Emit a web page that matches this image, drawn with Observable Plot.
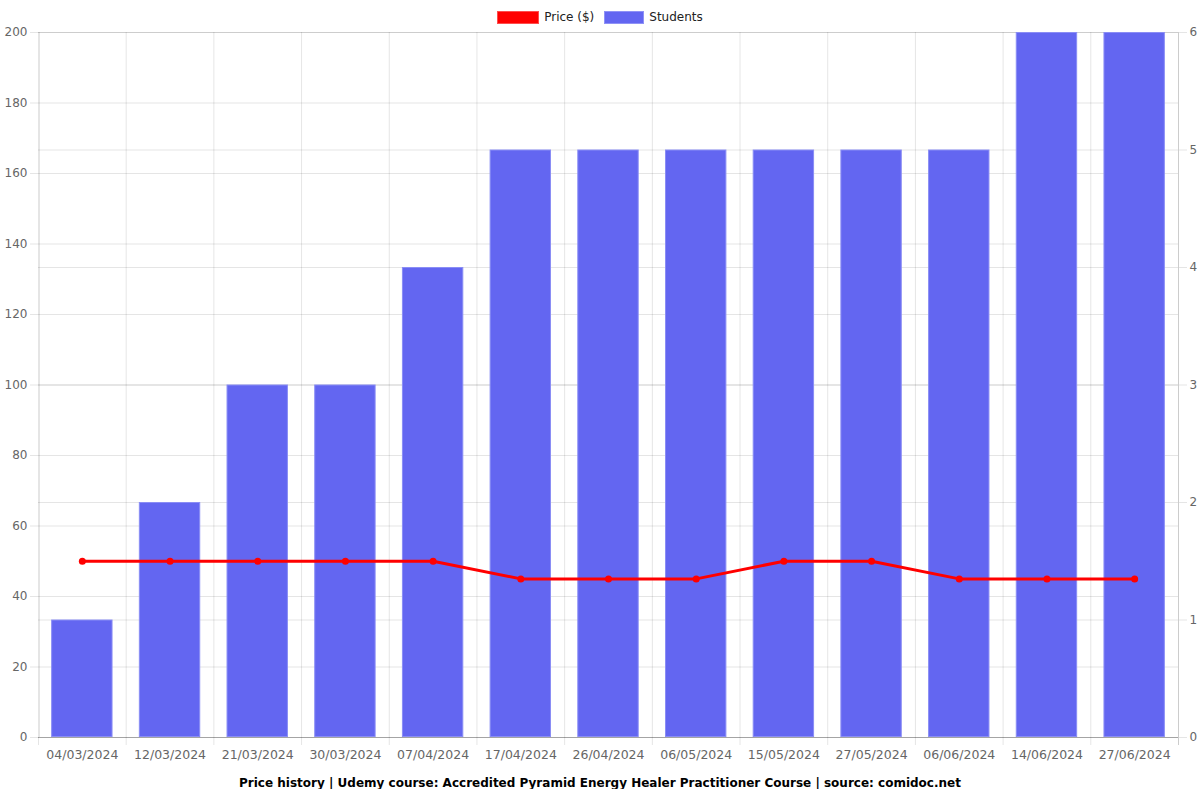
<!DOCTYPE html>
<html><head><meta charset="utf-8">
<script src="https://cdn.jsdelivr.net/npm/d3@7"></script>
<script src="https://cdn.jsdelivr.net/npm/@observablehq/plot@0.6"></script>
<style>
body{margin:0;background:#fff;font-family:"DejaVu Sans",sans-serif;width:1200px;}
#legend{height:24px;display:flex;justify-content:center;align-items:flex-end;font-size:12px;color:#222;}
#legend .item{display:flex;align-items:center;margin:0 5px;}
#legend .sw{display:inline-block;height:13px;margin-right:5px;box-sizing:border-box;}
#caption{height:12px;line-height:12px;text-align:center;font-weight:bold;font-size:12px;color:#000;}
</style></head><body>
<div id="legend"></div>
<div id="chart"></div>
<div id="caption"></div>
<script>
const dates = ["04/03/2024","12/03/2024","21/03/2024","30/03/2024","07/04/2024","17/04/2024","26/04/2024","06/05/2024","15/05/2024","27/05/2024","06/06/2024","14/06/2024","27/06/2024"];
const students = [1,2,3,3,4,5,5,5,5,5,5,6,6];
const prices = [50,50,50,50,50,45,45,45,50,50,45,45,45];
const leftTicks = [0,20,40,60,80,100,120,140,160,180,200];
const rightTicks = [0,1,2,3,4,5,6];
const priceMax = 200, studentsMax = 6;
const seriesNames = ["Price ($)","Students"];
const seriesColors = ["#ff0000","#6366f1"];
const titleText = "Price history | Udemy course: Accredited Pyramid Energy Healer Practitioner Course | source: comidoc.net";

const k = priceMax / studentsMax;
const data = dates.map((d, i) => ({date: d, students: students[i], price: prices[i]}));

const W = 1200, mL = 38, mR = 22;
const step = (W - mL - mR) / dates.length;

const legend = document.getElementById("legend");
seriesNames.forEach((n, i) => {
  const it = document.createElement("div"); it.className = "item";
  const sw = document.createElement("span"); sw.className = "sw";
  sw.style.width = i === 0 ? "42px" : "40px";
  sw.style.background = seriesColors[i];
  sw.style.border = i === 0 ? "1px solid #ff4d4d" : "1px solid #8f92f6";
  const t = document.createElement("span"); t.textContent = n;
  it.appendChild(sw); it.appendChild(t); legend.appendChild(it);
});
document.getElementById("caption").textContent = titleText;

const gOp = 0.1;
const chart = Plot.plot({
  width: W, height: 753,
  marginLeft: mL, marginRight: mR, marginTop: 8, marginBottom: 40,
  style: {fontFamily: "DejaVu Sans", fontSize: "12px", color: "#666", background: "#fff"},
  x: {type: "band", domain: dates, paddingInner: 0.3, paddingOuter: 0.15, round: false},
  y: {domain: [0, priceMax]},
  marks: [
    Plot.gridY(leftTicks, {stroke: "#000", strokeOpacity: gOp}),
    Plot.gridY(rightTicks.map(v => v * k), {stroke: "#000", strokeOpacity: gOp}),
    Plot.ruleX(dates, {x: d => d, dx: -step / 2, insetBottom: -8, stroke: "#000", strokeOpacity: gOp}),
    Plot.ruleX([dates[dates.length - 1]], {x: d => d, dx: step / 2, insetBottom: -8, stroke: "#000", strokeOpacity: 0.2}),
    Plot.ruleX([dates[0]], {x: d => d, dx: -step / 2 + 1, stroke: "#000", strokeOpacity: gOp}),
    Plot.barY(data, {x: "date", y: d => d.students * k, fill: "#6366f1", stroke: "#8a8df5", strokeWidth: 1, inset: 0.5}),
    Plot.ruleY([0], {stroke: "#000", strokeOpacity: 0.2}),
    Plot.lineY(data, {x: "date", y: "price", stroke: "#ff0000", strokeWidth: 3}),
    Plot.dot(data, {x: "date", y: "price", r: 3.5, fill: "#ff0000"}),
    Plot.axisY(leftTicks, {anchor: "left", tickSize: 8, tickPadding: 3, stroke: "#000", strokeOpacity: gOp, fill: "#666", label: null}),
    Plot.axisY(rightTicks.map(v => v * k), {anchor: "right", tickSize: 8, tickPadding: 3, stroke: "#000", strokeOpacity: gOp, fill: "#666", label: null, tickFormat: d => String(Math.round(d / k))}),
    Plot.axisX({tickSize: 0, tickPadding: 13, fill: "#666", label: null, fontSize: "12.5px"})
  ]
});
document.getElementById("chart").appendChild(chart);
</script>
</body></html>
